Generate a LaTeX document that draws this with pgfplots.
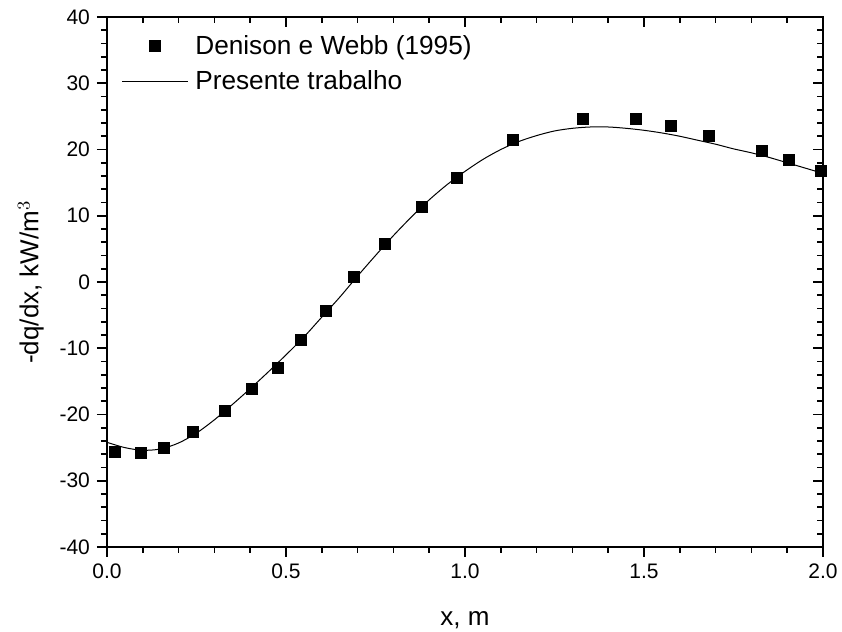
\documentclass[border=0pt]{standalone}
\usepackage{pgfplots}
\pgfplotsset{compat=1.18}
\usepackage{fontspec}
\setmainfont{Liberation Sans}
\begin{document}
\begin{tikzpicture}
\useasboundingbox (0,0) rectangle (421pt,316pt);
\pgfplotsset{
  common/.style={
    scale only axis, width=358pt, height=265pt,
    at={(53.5pt,42.5pt)}, anchor=south west,
    xmin=0, xmax=2, ymin=-40, ymax=40,
    xtick={0,0.5,1,1.5,2}, ytick={-40,-30,...,40},
    minor x tick num=4, minor y tick num=4,
    major tick length=5pt, minor tick length=3pt,
    axis line style={line width=1pt},
    every tick/.style={black, line width=0.8pt},
    /pgf/number format/assume math mode=true,
  }
}
\begin{axis}[common,
  tick align=outside,
  xtick pos=left, ytick pos=left,
  xticklabel style={font=\fontsize{10.5}{12}\selectfont},
  yticklabel style={font=\fontsize{10.5}{12}\selectfont},
  xticklabel={\pgfmathprintnumber[fixed,fixed zerofill,precision=1]{\tick}},
  xlabel={x, m}, ylabel={-dq/dx, kW/m$^3$},
  xlabel style={font=\fontsize{13}{15}\selectfont, at={(axis description cs:0.5,-0.149)}, anchor=base},
  ylabel style={font=\fontsize{13}{15}\selectfont, at={(axis description cs:-0.096,0.5)}, anchor=base},
  legend style={draw=none, fill=none, at={(axis description cs:0.017,0.976)}, anchor=north west,
    font=\fontsize{13.1}{15}\selectfont, row sep=3.5pt, inner sep=1pt,
    nodes={inner xsep=3.2pt, inner ysep=1.5pt}},
  legend cell align=left,
  legend image code/.code={\draw[mark repeat=2,mark phase=2,#1] plot coordinates {(0pt,0pt) (16.6pt,0pt) (33.2pt,0pt)};},
]
\addplot[only marks, mark=square*, mark size=2.75pt, black] coordinates {
(0.023,-25.6) (0.096,-25.8) (0.160,-25.1) (0.239,-22.7) (0.329,-19.4)
(0.405,-16.1) (0.476,-12.9) (0.543,-8.8) (0.612,-4.4) (0.691,0.7)
(0.776,5.7) (0.880,11.3) (0.976,15.7) (1.134,21.4) (1.330,24.6)
(1.476,24.6) (1.576,23.5) (1.682,22.1) (1.828,19.8) (1.905,18.5)
(1.995,16.8)
};
\addlegendentry{Denison e Webb (1995)}
\addplot[black, line width=0.5pt, smooth, no marks] coordinates {
(0.00,-24.2) (0.05,-25.0) (0.10,-25.4) (0.15,-25.2) (0.20,-24.3)
(0.25,-22.8) (0.30,-20.8) (0.35,-18.5) (0.40,-16.1) (0.45,-13.6)
(0.50,-11.0) (0.55,-8.3) (0.60,-5.3) (0.65,-2.3) (0.70,0.9)
(0.75,4.0) (0.80,7.0) (0.85,9.8) (0.90,12.4) (0.95,14.7)
(1.00,16.7) (1.05,18.5) (1.10,20.0) (1.15,21.2) (1.20,22.1)
(1.25,22.8) (1.30,23.2) (1.35,23.4) (1.40,23.4) (1.45,23.2)
(1.50,22.9) (1.55,22.5) (1.60,22.0) (1.65,21.4) (1.70,20.8)
(1.75,20.1) (1.80,19.5) (1.85,18.8) (1.90,18.0) (1.95,17.2)
(2.00,16.4)
};
\addlegendentry{Presente trabalho}
\end{axis}
\begin{axis}[common,
  tick align=inside,
  xtick pos=right, ytick pos=right,
  xticklabels={}, yticklabels={},
]
\end{axis}
\end{tikzpicture}
\end{document}
